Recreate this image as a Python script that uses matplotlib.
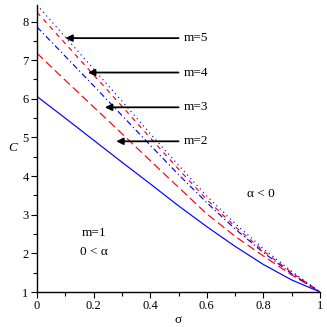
import numpy as np
import matplotlib
matplotlib.use("Agg")
import matplotlib.pyplot as plt
from matplotlib.ticker import MultipleLocator

# values
sigma = [0.0, 0.1, 0.2, 0.3, 0.4, 0.5, 0.6, 0.7, 0.8, 0.9, 1.0]
c_m1 = [6.06, 5.50, 4.93, 4.36, 3.80, 3.23, 2.69, 2.18, 1.71, 1.31, 1.0]
c_m2 = [7.18, 6.48, 5.79, 5.10, 4.40, 3.71, 3.02, 2.44, 1.93, 1.44, 1.0]
c_m3 = [7.86, 7.10, 6.34, 5.57, 4.80, 4.04, 3.31, 2.63, 2.02, 1.47, 1.0]
c_m4 = [8.24, 7.43, 6.62, 5.81, 4.99, 4.18, 3.39, 2.69, 2.06, 1.50, 1.0]
c_m5 = [8.43, 7.60, 6.77, 5.94, 5.10, 4.28, 3.48, 2.77, 2.12, 1.53, 1.0]

# arrows: label, y value, arrow tip sigma
arrow_labels = ["m=5", "m=4", "m=3", "m=2"]
arrow_y = [7.57, 6.68, 5.78, 4.90]
arrow_tip = [0.10, 0.18, 0.24, 0.28]

plt.rcParams['font.family'] = ['Liberation Serif', 'DejaVu Serif']

fig = plt.figure(figsize=(3.27, 3.27), dpi=100)
ax = fig.add_axes([0.113, 0.107, 0.866, 0.878])

lw = 0.85
ax.plot(sigma, c_m1, color='#0000ff', lw=lw, ls='-')
ax.plot(sigma, c_m2, color='#ff0000', lw=lw, dashes=(7, 3.5))
ax.plot(sigma, c_m3, color='#0000ff', lw=lw, dashes=(5, 2.5, 1, 2.5))
ax.plot(sigma, c_m4, color='#ff0000', lw=lw, dashes=(4, 4))
ax.plot(sigma, c_m5, color='#0000ff', lw=lw, dashes=(1, 3))

for lab, y, tip in zip(arrow_labels, arrow_y, arrow_tip):
	ax.annotate('', xy=(tip, y), xytext=(0.5, y),
		arrowprops=dict(arrowstyle='-|>', color='k', lw=1.3, mutation_scale=10, shrinkA=0, shrinkB=0))
	ax.text(0.518, y, lab, fontsize=9.5, va='center', ha='left')

ax.text(0.2, 2.54, "m=1", fontsize=9.5, ha='center', va='center')
ax.text(0.2, 2.04, "0 < α", fontsize=9.5, ha='center', va='center')
ax.text(0.79, 3.53, "α < 0", fontsize=9.5, ha='center', va='center')

ax.set_xlim(0, 1)
ax.set_ylim(1, 8.43)
ax.spines['top'].set_visible(False)
ax.spines['right'].set_visible(False)
ax.spines['left'].set_linewidth(1.0)
ax.spines['bottom'].set_linewidth(1.0)

ax.xaxis.set_major_locator(MultipleLocator(0.2))
ax.xaxis.set_minor_locator(MultipleLocator(0.1))
ax.yaxis.set_major_locator(MultipleLocator(1))
ax.yaxis.set_minor_locator(MultipleLocator(0.5))
ax.set_xticks([0, 0.2, 0.4, 0.6, 0.8, 1.0])
ax.set_xticklabels(["0", "0.2", "0.4", "0.6", "0.8", "1"])
ax.tick_params(which='major', length=4, width=0.8, labelsize=9, pad=2)
ax.tick_params(which='minor', length=3, width=0.8)

ax.set_xlabel("σ", fontsize=9.5, labelpad=1)
ax.set_ylabel("C", fontsize=9.5, style='italic', rotation=0, labelpad=8)
ax.yaxis.set_label_coords(-0.085, 0.48)

plt.savefig("out.png", dpi=100)
plt.close()
